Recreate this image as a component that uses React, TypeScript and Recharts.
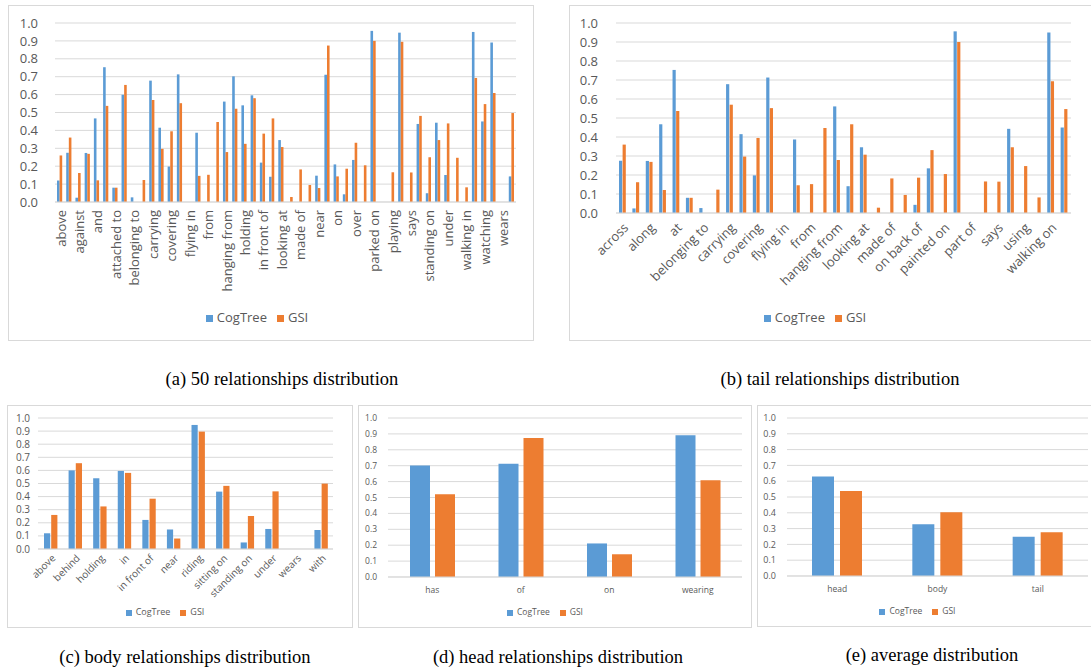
import React from 'react';
import { BarChart, Bar, XAxis, YAxis, CartesianGrid, Legend } from 'recharts';

// ---------- data ----------
const allCategories = [
  'above', 'across', 'against', 'along', 'and', 'at', 'attached to', 'behind', 'belonging to', 'between',
  'carrying', 'covered in', 'covering', 'eating', 'flying in', 'for', 'from', 'growing on', 'hanging from', 'has',
  'holding', 'in', 'in front of', 'laying on', 'looking at', 'lying on', 'made of', 'mounted on', 'near', 'of',
  'on', 'on back of', 'over', 'painted on', 'parked on', 'part of', 'playing', 'riding', 'says', 'sitting on',
  'standing on', 'to', 'under', 'using', 'walking in', 'walking on', 'watching', 'wearing', 'wears', 'with',
];
const allCogTree = [
  0.12, 0.275, 0.024, 0.274, 0.467, 0.753, 0.08, 0.599, 0.026, 0,
  0.678, 0.415, 0.198, 0.713, 0, 0.387, 0, 0, 0.561, 0.702,
  0.54, 0.596, 0.22, 0.141, 0.346, 0, 0, 0, 0.147, 0.711,
  0.21, 0.043, 0.235, 0, 0.956, 0, 0, 0.946, 0, 0.436,
  0.049, 0.443, 0.151, 0, 0, 0.95, 0.45, 0.891, 0, 0.143,
];
const allGSI = [
  0.26, 0.36, 0.162, 0.269, 0.121, 0.537, 0.08, 0.654, 0, 0.123,
  0.57, 0.297, 0.395, 0.552, 0, 0.146, 0.152, 0.447, 0.279, 0.521,
  0.325, 0.58, 0.382, 0.467, 0.307, 0.028, 0.182, 0.095, 0.078, 0.874,
  0.143, 0.186, 0.331, 0.205, 0.9, 0, 0.166, 0.895, 0.165, 0.481,
  0.25, 0.346, 0.439, 0.247, 0.082, 0.693, 0.547, 0.609, 0, 0.497,
];

const tailCategories = [
  'across', 'against', 'along', 'and', 'at', 'attached to', 'belonging to', 'between', 'carrying', 'covered in',
  'covering', 'eating', 'flying in', 'for', 'from', 'growing on', 'hanging from', 'laying on', 'looking at', 'lying on',
  'made of', 'mounted on', 'on back of', 'over', 'painted on', 'parked on', 'part of', 'playing', 'says', 'to',
  'using', 'walking in', 'walking on', 'watching',
];
const tailCogTree = [
  0.275, 0.024, 0.274, 0.467, 0.753, 0.08, 0.026, 0, 0.678, 0.415,
  0.198, 0.713, 0, 0.387, 0, 0, 0.561, 0.141, 0.346, 0,
  0, 0, 0.043, 0.235, 0, 0.956, 0, 0, 0, 0.443,
  0, 0, 0.95, 0.45,
];
const tailGSI = [
  0.36, 0.162, 0.269, 0.121, 0.537, 0.08, 0, 0.123, 0.57, 0.297,
  0.395, 0.552, 0, 0.146, 0.152, 0.447, 0.279, 0.467, 0.307, 0.028,
  0.182, 0.095, 0.186, 0.331, 0.205, 0.9, 0, 0.166, 0.165, 0.346,
  0.247, 0.082, 0.693, 0.547,
];

const bodyCategories = ['above', 'behind', 'holding', 'in', 'in front of', 'near', 'riding', 'sitting on', 'standing on', 'under', 'wears', 'with'];
const bodyCogTree = [0.12, 0.6, 0.54, 0.596, 0.222, 0.149, 0.947, 0.438, 0.05, 0.153, 0, 0.145];
const bodyGSI = [0.26, 0.655, 0.325, 0.581, 0.384, 0.08, 0.896, 0.482, 0.252, 0.44, 0, 0.499];

const headCategories = ['has', 'of', 'on', 'wearing'];
const headCogTree = [0.702, 0.712, 0.211, 0.891];
const headGSI = [0.521, 0.875, 0.143, 0.609];

const avgCategories = ['head', 'body', 'tail'];
const avgCogTree = [0.629, 0.328, 0.248];
const avgGSI = [0.538, 0.403, 0.277];

const yTicks = [0, 0.1, 0.2, 0.3, 0.4, 0.5, 0.6, 0.7, 0.8, 0.9, 1.0];

// ---------- styling ----------
const BLUE = '#5B9BD5';
const ORANGE = '#ED7D31';
const GRID = '#D9D9D9';
const TEXT = '#595959';
const FONT = '"Open Sans", "Noto Sans", sans-serif';
const SERIF = '"Liberation Serif", "DejaVu Serif", serif';

const toRows = (cats: string[], a: number[], b: number[]) =>
  cats.map((c, i) => ({ name: c, CogTree: a[i], GSI: b[i] }));

const RotatedTick = (props: any) => {
  const { x, y, payload, angle, fontSize, dx = 0, dy = 0 } = props;
  return (
    <g transform={`translate(${x + dx},${y + dy})`}>
      <text
        transform={`rotate(${angle})`}
        textAnchor="end"
        dominantBaseline="central"
        fontSize={fontSize}
        fontFamily={FONT}
        fill={TEXT}
      >
        {payload.value}
      </text>
    </g>
  );
};

type PanelProps = {
  left: number; top: number; width: number; height: number;
  data: any[];
  margin: { top: number; right: number; left: number; bottom: number };
  yWidth: number; yTickMargin: number; yFont: number;
  xHeight: number; xInterval: number;
  xAngle?: number; xFont: number; xDx?: number; xDy?: number; xTickMargin?: number;
  barSize: number; barGap: number;
  legendFont: number; legendIcon: number; legendHeight: number;
};

function Panel(p: PanelProps) {
  const tick = p.xAngle !== undefined
    ? (tp: any) => <RotatedTick {...tp} angle={p.xAngle} fontSize={p.xFont} dx={p.xDx} dy={p.xDy} />
    : { fontSize: p.xFont, fill: TEXT, fontFamily: FONT };
  return (
    <div style={{ position: 'absolute', left: p.left, top: p.top, width: p.width, height: p.height }}>
      <BarChart width={p.width} height={p.height} data={p.data} margin={p.margin} barGap={p.barGap}>
        <CartesianGrid vertical={false} stroke={GRID} />
        <XAxis
          dataKey="name"
          interval={p.xInterval}
          tickLine={false}
          tickSize={0}
          tickMargin={p.xTickMargin ?? 0}
          axisLine={{ stroke: GRID }}
          height={p.xHeight}
          tick={tick as any}
        />
        <YAxis
          domain={[0, 1]}
          ticks={yTicks}
          tickFormatter={(v: number) => v.toFixed(1)}
          axisLine={false}
          tickLine={false}
          tickSize={0}
          tickMargin={p.yTickMargin}
          width={p.yWidth}
          interval={0}
          tick={{ fontSize: p.yFont, fill: TEXT, fontFamily: FONT }}
        />
        <Legend
          verticalAlign="bottom"
          align="center"
          height={p.legendHeight}
          iconType="square"
          iconSize={p.legendIcon}
          wrapperStyle={{ fontSize: p.legendFont, fontFamily: FONT, lineHeight: `${p.legendHeight}px` }}
          formatter={(v: string) => <span style={{ color: TEXT }}>{v}</span>}
        />
        <Bar dataKey="CogTree" fill={BLUE} barSize={p.barSize} isAnimationActive={false} />
        <Bar dataKey="GSI" fill={ORANGE} barSize={p.barSize} isAnimationActive={false} />
      </BarChart>
      <div style={{ position: 'absolute', left: 0, top: 0, right: 0, bottom: 0, border: `1px solid ${GRID}`, pointerEvents: 'none' }} />
    </div>
  );
}

const Caption = ({ cx, cy, text }: { cx: number; cy: number; text: string }) => (
  <div
    style={{
      position: 'absolute', left: cx - 200, top: cy - 12, width: 400, height: 24,
      textAlign: 'center', fontFamily: SERIF, fontSize: 18.5, lineHeight: '24px', color: '#000',
    }}
  >
    {text}
  </div>
);

export default function App() {
  return (
    <div style={{ position: 'absolute', left: 0, top: 0, width: 1091, height: 670, overflow: 'hidden', background: '#fff' }}>
      <Panel
        left={8} top={5} width={526} height={336}
        data={toRows(allCategories, allCogTree, allGSI)}
        margin={{ top: 18, right: 18, left: 0, bottom: 14 }}
        yWidth={47} yTickMargin={17} yFont={13}
        xHeight={105} xInterval={1} xAngle={-90} xFont={13} xDx={1} xDy={8}
        barSize={2.6} barGap={0}
        legendFont={13} legendIcon={7} legendHeight={20}
      />
      <Panel
        left={569} top={5} width={530} height={336}
        data={toRows(tailCategories, tailCogTree, tailGSI)}
        margin={{ top: 18, right: 28, left: 0, bottom: 14 }}
        yWidth={47} yTickMargin={18} yFont={13}
        xHeight={94} xInterval={1} xAngle={-45} xFont={13} xDx={3} xDy={12}
        barSize={3.2} barGap={0.4}
        legendFont={13} legendIcon={7} legendHeight={20}
      />
      <Panel
        left={7} top={405} width={346} height={223}
        data={toRows(bodyCategories, bodyCogTree, bodyGSI)}
        margin={{ top: 13, right: 20, left: 0, bottom: 9 }}
        yWidth={31} yTickMargin={8} yFont={10}
        xHeight={56} xInterval={0} xAngle={-45} xFont={10} xDx={3} xDy={7}
        barSize={6.2} barGap={1}
        legendFont={9} legendIcon={6} legendHeight={14}
      />
      <Panel
        left={358} top={405} width={394} height={223}
        data={toRows(headCategories, headCogTree, headGSI)}
        margin={{ top: 13, right: 10, left: 0, bottom: 9 }}
        yWidth={30} yTickMargin={11} yFont={8.5}
        xHeight={28} xInterval={0} xFont={8.5} xTickMargin={10}
        barSize={20} barGap={5}
        legendFont={8.5} legendIcon={6} legendHeight={14}
      />
      <Panel
        left={757} top={405} width={340} height={222}
        data={toRows(avgCategories, avgCogTree, avgGSI)}
        margin={{ top: 13, right: 9, left: 0, bottom: 9 }}
        yWidth={30} yTickMargin={11} yFont={9}
        xHeight={28} xInterval={0} xFont={8.5} xTickMargin={10}
        barSize={22} barGap={6}
        legendFont={8.5} legendIcon={6} legendHeight={14}
      />
      <Caption cx={282} cy={379} text="(a) 50 relationships distribution" />
      <Caption cx={840} cy={379} text="(b) tail relationships distribution" />
      <Caption cx={185} cy={657} text="(c) body relationships distribution" />
      <Caption cx={558} cy={657} text="(d) head relationships distribution" />
      <Caption cx={932} cy={655} text="(e) average distribution" />
    </div>
  );
}
